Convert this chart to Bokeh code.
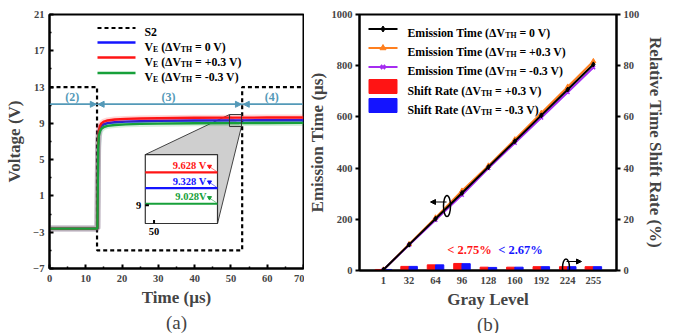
from bokeh.plotting import figure
from bokeh.layouts import row
from bokeh.models import FixedTicker, Range1d, LinearAxis, Arrow, NormalHead, Title
from bokeh.core.properties import value
from bokeh.transform import dodge
from bokeh.embed import file_html
from bokeh.resources import INLINE

SERIF = "Liberation Serif"

# ---------------- panel (a): emission-stage voltage ----------------
time_us = [0, 13.2, 13.3, 13.4, 13.6, 13.9, 14.3, 15, 16, 18, 21, 25, 30, 40, 50, 53, 60, 70]
ve_0 = [-2.6, -2.6, 2.0, 6.5, 7.9, 8.4, 8.7, 8.9, 9.02, 9.12, 9.19, 9.24, 9.27, 9.31, 9.328, 9.33, 9.34, 9.35]
ve_p03 = [-2.6, -2.6, 2.3, 6.8, 8.2, 8.7, 9.0, 9.2, 9.32, 9.42, 9.49, 9.54, 9.57, 9.61, 9.628, 9.63, 9.64, 9.65]
ve_m03 = [-2.6, -2.6, 1.7, 6.2, 7.6, 8.1, 8.4, 8.6, 8.72, 8.82, 8.89, 8.94, 8.97, 9.01, 9.028, 9.03, 9.04, 9.05]
s2_time = [0, 13.1, 13.1, 53.1, 53.1, 70]
s2_volt = [13, 13, -5, -5, 13, 13]
phase_names = ["(2)", "(3)", "(4)"]
phase_bounds = [0, 13.1, 53.1, 70]
phase_level = 11.1
inset_levels = [9.628, 9.328, 9.028]
inset_texts = ["9.628 V", "9.328 V", "9.028V"]
v_ticks = [-7, -3, 1, 5, 9, 13, 17, 21]
t_ticks = [0, 10, 20, 30, 40, 50, 60, 70]

# ---------------- panel (b): emission time vs gray level ----------------
gray = [1, 32, 64, 96, 128, 160, 192, 224, 255]
t_em_0 = [3.2, 101, 202, 303, 404, 505, 606, 707, 805]
t_em_p03 = [3.21, 102.6, 206.4, 311.3, 409.3, 511.6, 615.1, 717.6, 817.1]
t_em_m03 = [3.19, 99.4, 197.6, 294.9, 399.2, 498.4, 596.9, 696.4, 792.9]
shift_p03 = [0.4, 1.6, 2.2, 2.75, 1.3, 1.3, 1.5, 1.5, 1.5]
shift_m03 = [0.4, 1.6, 2.2, 2.67, 1.2, 1.3, 1.5, 1.5, 1.5]
em_ticks = [0, 200, 400, 600, 800, 1000]
pct_ticks = [0, 20, 40, 60, 80, 100]

BLUE, RED, GREEN = "#1414ff", "#ff1414", "#17a03a"
TEAL = "#5499b8"
ORANGE, PURPLE = "#ff7f1e", "#a52cf0"

# Times-Bold advance widths (per 1000 em) for laying out mixed-size text
ADV = {' ': 250, '(': 333, ')': 333, 'Δ': 612, 'V': 722, 'E': 667, 'T': 667, 'H': 778,
       '=': 570, '0': 500, '3': 500, '.': 250, '+': 570, '-': 333, 'S': 556, 'm': 833,
       'i': 278, 's': 389, 'o': 500, 'n': 556, 'h': 556, 'f': 333, 't': 333, 'R': 722,
       'a': 500, 'e': 444}


def text_width(s, size):
    return sum(ADV.get(c, 500) for c in s) * size / 1000.0


def rich_text(p, x, y, parts, size, color="black", **kw):
    """Draw a run of text with subscripts, starting at (x, y) (vertical centre)."""
    off = 0.0
    for txt, sub in parts:
        fs = size * 0.66 if sub else size
        dy = size * 0.34 + (size * 0.22 if sub else 0)
        body = txt.lstrip(" ")
        off += text_width(txt[:len(txt) - len(body)], fs)  # leading blanks as offset
        p.text(x=[x], y=[y], text=[body], x_offset=off, y_offset=dy,
               text_font=value(SERIF), text_font_style="bold",
               text_font_size=f"{fs:.1f}px", text_baseline="alphabetic",
               text_align="left", text_color=color, **kw)
        off += text_width(body, fs)


def style(p, tick_in, tick_out):
    p.outline_line_color = "black"
    p.outline_line_width = 2
    p.xgrid.visible = False
    p.ygrid.visible = False
    p.background_fill_color = "white"
    p.border_fill_color = "white"
    for ax in p.axis:
        ax.axis_line_width = 2
        ax.major_tick_line_width = 2
        ax.minor_tick_line_width = 1.5
        ax.major_tick_in = tick_in
        ax.major_tick_out = tick_out
        ax.minor_tick_in = tick_in // 2 if tick_in else 0
        ax.minor_tick_out = tick_out // 2 if tick_out else 0
        ax.major_label_text_font = SERIF
        ax.major_label_text_font_style = "bold"
        ax.major_label_text_font_size = "10.5px"
        ax.axis_label_text_font = SERIF
        ax.axis_label_text_font_style = "bold"
        ax.axis_label_text_font_size = "17px"


# ======================= panel (a) =======================
pa = figure(frame_width=254, frame_height=254, width=304, height=333,
            x_range=Range1d(0, 70), y_range=Range1d(-7, 21),
            min_border_left=49, min_border_right=1, min_border_top=14, min_border_bottom=65,
            output_backend="svg", toolbar_location=None)
style(pa, 4, 0)
pa.xaxis.ticker = FixedTicker(ticks=t_ticks, minor_ticks=[5, 15, 25, 35, 45, 55, 65])
pa.yaxis.ticker = FixedTicker(ticks=v_ticks, minor_ticks=[-5, -1, 3, 7, 11, 15, 19])
pa.xaxis.axis_label = "Time (µs)"
pa.yaxis.axis_label = "Voltage (V)"
pa.xaxis.major_label_standoff = 6
pa.yaxis.major_label_standoff = 5
pa.xaxis.axis_label_standoff = 3
pa.yaxis.axis_label_standoff = 6
pa.add_layout(Title(text="(a)", align="center", text_font=SERIF, text_font_size="19px",
                    text_font_style="normal", standoff=0), "below")

PX_V = 28 / 254.0  # volts per frame pixel


def ax_(px):  # frame pixel -> time
    return (px - 49) * 70 / 254.0


def ay_(py):  # frame pixel -> voltage
    return 21 - (py - 14) * PX_V


# zoom window and where it is magnified
win_t, win_v = (49.6, 52.9), (8.65, 9.97)
box_t, box_v = (26.4, 46.3), (-2.04, 5.56)


def inset_x(t):
    return box_t[0] + (t - win_t[0]) / (win_t[1] - win_t[0]) * (box_t[1] - box_t[0])


def inset_y(v):
    return box_v[0] + (v - win_v[0]) / (win_v[1] - win_v[0]) * (box_v[1] - box_v[0])


# grey magnification wedge
pa.patch(x=[box_t[0], win_t[0], win_t[1], box_t[1], box_t[1]],
         y=[box_v[1], win_v[1], win_v[0], box_v[0], box_v[1]],
         fill_color="#cfcfcf", line_alpha=0)
pa.segment(x0=[box_t[0], win_t[1]], y0=[box_v[1], win_v[0]],
           x1=[win_t[0], box_t[1]], y1=[win_v[1], box_v[0]], line_color="#444444", line_width=1)

# S2 control pulse
pa.line(s2_time, s2_volt, line_color="black", line_width=2.2, line_dash="4 3")

# phase arrows
pa.segment(x0=[phase_bounds[0]], y0=[phase_level], x1=[69.7], y1=[phase_level],
           line_color=TEAL, line_width=1.5)
hd = dict(size=6, fill_color=TEAL, line_color=TEAL)
pa.add_layout(Arrow(end=NormalHead(**hd), x_start=phase_bounds[0], y_start=phase_level,
                    x_end=phase_bounds[1] - 0.2, y_end=phase_level, line_color=TEAL, line_width=1.5))
pa.add_layout(Arrow(start=NormalHead(**hd), end=NormalHead(**hd), x_start=phase_bounds[1] + 0.3,
                    y_start=phase_level, x_end=phase_bounds[2] - 0.2, y_end=phase_level,
                    line_color=TEAL, line_width=1.5))
pa.add_layout(Arrow(start=NormalHead(**hd), end=None, x_start=phase_bounds[2] + 0.3,
                    y_start=phase_level, x_end=69.7, y_end=phase_level,
                    line_color=TEAL, line_width=1.5))
for name, a, b in zip(phase_names, phase_bounds[:-1], phase_bounds[1:]):
    pa.text(x=[(a + b) / 2 - 0.3], y=[ay_(96)], text=[name], text_font=value(SERIF),
            text_font_style="bold", text_font_size="12px", text_color=TEAL,
            text_align="center", text_baseline="middle")

# emission voltage curves
for ys, col in ((ve_0, BLUE), (ve_p03, RED), (ve_m03, GREEN)):
    pa.line(time_us, ys, line_color=col, line_width=6, line_alpha=0.18)
    pa.line(time_us, ys, line_color=col, line_width=2.4)

# zoom window outline
pa.quad(left=[win_t[0]], right=[win_t[1]], bottom=[win_v[0]], top=[win_v[1]],
        fill_alpha=0, line_color="#333333", line_width=1)

# inset box
pa.quad(left=[box_t[0]], right=[box_t[1]], bottom=[box_v[0]], top=[box_v[1]],
        fill_color="white", line_color="#333333", line_width=1.2)
for lev, txt, col in zip(inset_levels, inset_texts, (RED, BLUE, GREEN)):
    y = inset_y(lev)
    pa.line([box_t[0], box_t[1]], [y, y], line_color=col, line_width=2.2)
    pa.text(x=[ax_(206)], y=[y], text=[txt], y_offset=-7, text_font=value(SERIF),
            text_font_style="bold", text_font_size="10.5px", text_color=col,
            text_align="right", text_baseline="middle")
    pa.scatter(x=[ax_(209)], y=[y + 6 * PX_V], marker="inverted_triangle", size=4,
               fill_color=col, line_color=col)
    pa.segment(x0=[ax_(210)], y0=[y + 5 * PX_V], x1=[ax_(216)], y1=[y + 1 * PX_V],
               line_color=col, line_width=0.8, line_alpha=0.7)
# inset ticks
pa.segment(x0=[box_t[0]], y0=[inset_y(9.0)], x1=[box_t[0] + 1.0], y1=[inset_y(9.0)],
           line_color="black", line_width=2)
pa.text(x=[box_t[0]], y=[inset_y(9.0)], text=["9"], x_offset=-4, text_font=value(SERIF),
        text_font_style="bold", text_font_size="10.5px", text_align="right",
        text_baseline="middle")
pa.segment(x0=[inset_x(50)], y0=[box_v[0]], x1=[inset_x(50)], y1=[box_v[0] + 0.4],
           line_color="black", line_width=2)
pa.text(x=[inset_x(50)], y=[box_v[0]], text=["50"], y_offset=4, text_font=value(SERIF),
        text_font_style="bold", text_font_size="10.5px", text_align="center",
        text_baseline="top")

# legend (a)
leg_rows = [27.5, 42, 57, 72.5]
pa.line([ax_(97), ax_(135)], [ay_(leg_rows[0])] * 2, line_color="black", line_width=2.2,
        line_dash="4 3")
rich_text(pa, ax_(144), ay_(leg_rows[0]), [("S2", False)], 11.8)
for r, col, dv in zip(leg_rows[1:], (BLUE, RED, GREEN), ("0", "+0.3", "-0.3")):
    pa.line([ax_(97), ax_(135)], [ay_(r)] * 2, line_color=col, line_width=2.4)
    rich_text(pa, ax_(144), ay_(r),
              [("V", False), ("E", True), (" (ΔV", False), ("TH", True), (f" = {dv} V)", False)],
              11.8)

# ======================= panel (b) =======================
pb = figure(frame_width=257, frame_height=256, width=371, height=333,
            x_range=Range1d(-28, 283), y_range=Range1d(0, 1000),
            min_border_left=55, min_border_right=59, min_border_top=12, min_border_bottom=65,
            output_backend="svg", toolbar_location=None)
pb.extra_y_ranges = {"pct": Range1d(0, 100)}
pb.add_layout(LinearAxis(y_range_name="pct", axis_label="Relative Time Shift Rate (%)",
                         ticker=FixedTicker(ticks=pct_ticks)), "right")
style(pb, 0, 4)
pb.xaxis.ticker = FixedTicker(ticks=gray)
pb.yaxis[0].ticker = FixedTicker(ticks=em_ticks)
pb.xaxis.axis_label = "Gray Level"
pb.yaxis[0].axis_label = "Emission Time (µs)"
pb.xaxis.major_label_standoff = 6
pb.yaxis.major_label_standoff = 3
pb.xaxis.axis_label_standoff = 3
pb.yaxis[0].axis_label_standoff = 2
pb.yaxis[1].axis_label_standoff = 4
pb.xaxis.major_tick_out = 0
pb.add_layout(Title(text="(b)", align="center", text_font=SERIF, text_font_size="19px",
                    text_font_style="normal", standoff=0), "below")


def bx_(px):
    return -28 + (px - 359) * 311 / 257.0


def by_(py):
    return (268 - py) * 1000 / 256.0


def bp_(py):
    return (268 - py) * 100 / 256.0


src = dict(gray=gray, t0=t_em_0, tp=t_em_p03, tm=t_em_m03, sp=shift_p03, sm=shift_m03)
pb.vbar(x=dodge("gray", -5, range=pb.x_range), top="sp", width=10, source=src,
        y_range_name="pct", fill_color=RED, line_color=RED)
pb.vbar(x=dodge("gray", 5, range=pb.x_range), top="sm", width=10, source=src,
        y_range_name="pct", fill_color=BLUE, line_color=BLUE)

pb.line("gray", "tp", source=src, line_color=ORANGE, line_width=2)
pb.scatter("gray", "tp", source=src, marker="triangle", size=5, fill_color=ORANGE,
           line_color=ORANGE)
pb.line("gray", "tm", source=src, line_color=PURPLE, line_width=2)
pb.scatter("gray", "tm", source=src, marker="x", size=5, line_color=PURPLE, line_width=1.5)
pb.line("gray", "t0", source=src, line_color="black", line_width=2)
pb.scatter("gray", "t0", source=src, marker="diamond", size=5, fill_color="black",
           line_color="black")

# maximum shift annotations
pb.text(x=[bx_(469)], y=[bp_(247)], text=[f"< {max(shift_p03):.2f}%"], y_range_name="pct",
        text_font=value(SERIF), text_font_style="bold", text_font_size="12.5px",
        text_color=RED, text_align="center", text_baseline="middle")
pb.text(x=[bx_(520)], y=[bp_(247)], text=[f"< {max(shift_m03):.2f}%"], y_range_name="pct",
        text_font=value(SERIF), text_font_style="bold", text_font_size="12.5px",
        text_color=BLUE, text_align="center", text_baseline="middle")

# axis-pointer ellipses
pb.ellipse(x=[bx_(446.5)], y=[by_(203.5)], width=7, height=21, width_units="screen",
           height_units="screen", fill_alpha=0, line_color="black", line_width=1.5)
pb.add_layout(Arrow(end=NormalHead(size=5, fill_color="black"), x_start=bx_(446), y_start=by_(199.5),
                    x_end=bx_(430), y_end=by_(199.5), line_width=1.2))
pb.ellipse(x=[bx_(565.5)], y=[bp_(265)], width=7, height=17, width_units="screen",
           height_units="screen", fill_alpha=0, line_color="black", line_width=1.5,
           y_range_name="pct")
pb.add_layout(Arrow(end=NormalHead(size=5, fill_color="black"), x_start=bx_(566), y_start=bp_(259),
                    x_end=bx_(581), y_end=bp_(259), line_width=1.2, y_range_name="pct"))

# legend (b)
rows_b = [26.5, 45.5, 64.5, 84, 103]
for r, col, mk, dv in zip(rows_b[:3], ("black", ORANGE, PURPLE), ("diamond", "triangle", "x"),
                          ("0", "+0.3", "-0.3")):
    pb.line([bx_(368), bx_(397)], [by_(r)] * 2, line_color=col, line_width=2)
    if mk == "x":
        pb.scatter([bx_(382.5)], [by_(r)], marker=mk, size=6, line_color=col, line_width=2)
    else:
        pb.scatter([bx_(382.5)], [by_(r)], marker=mk, size=6, fill_color=col, line_color=col)
    rich_text(pb, bx_(407), by_(r),
              [("Emission Time (ΔV", False), ("TH", True), (f" = {dv} V)", False)], 11.8)
for r, col, dv in zip(rows_b[3:], (RED, BLUE), ("+0.3", "-0.3")):
    pb.rect(x=[bx_(382.5)], y=[by_(r)], width=28, height=14, width_units="screen",
            height_units="screen", fill_color=col, line_color=col)
    rich_text(pb, bx_(407), by_(r),
              [("Shift Rate (ΔV", False), ("TH", True), (f" = {dv} V)", False)], 11.8)

layout = row(pa, pb)
open("out.html", "w").write(file_html(layout, INLINE))
